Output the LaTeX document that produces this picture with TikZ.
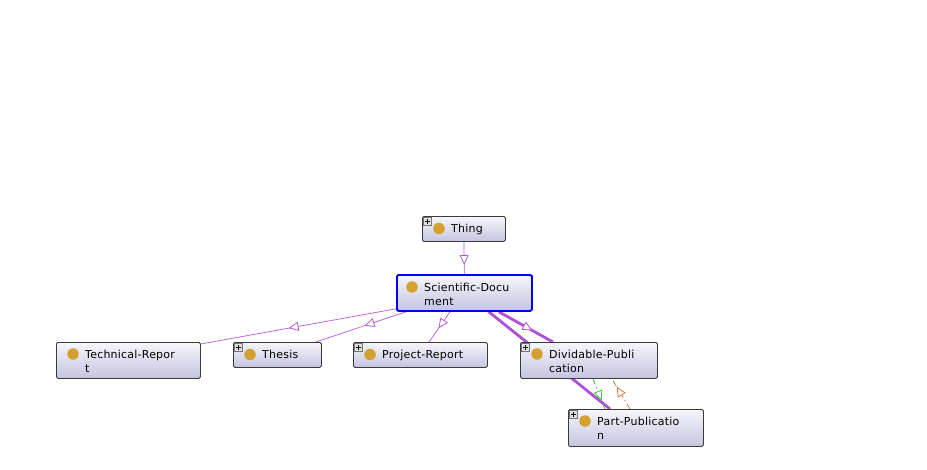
\documentclass[tikz,border=0pt]{standalone}
\usepackage{fontspec}
\setmainfont{DejaVu Sans}[LetterSpace=2]
\usetikzlibrary{arrows.meta,decorations.markings}

\definecolor{boxedge}{HTML}{3A3A3A}
\definecolor{boxtop}{HTML}{F6F6FA}
\definecolor{boxbot}{HTML}{C4C4E2}
\definecolor{selblue}{HTML}{0000FF}
\definecolor{gold}{HTML}{D4A030}
\definecolor{isapurple}{HTML}{B45AD8}
\definecolor{isathick}{HTML}{B050D8}
\definecolor{eqgreen}{HTML}{33CC33}
\definecolor{invorange}{HTML}{D27832}

\pgfdeclarelayer{edges}
\pgfsetlayers{edges,main}

\tikzset{
  x=1pt, y=-1pt,
  cbox/.style={draw=boxedge, line width=0.8pt, rounded corners=1.5pt,
    top color=boxtop, bottom color=boxbot, anchor=north west, inner sep=0pt},
  selbox/.style={cbox, draw=selblue, line width=1.8pt},
  dot/.style={circle, fill=gold, minimum size=11.5pt, inner sep=0pt},
  lbl/.style={anchor=base west, inner sep=0pt, font=\fontsize{11}{14}\selectfont},
  plusbox/.style={draw=boxedge!70, fill=white!88!black, line width=0.5pt,
    minimum size=8pt, inner sep=0pt, anchor=north west,
    path picture={\draw[line width=0.6pt, black]
      ([xshift=1.6pt]path picture bounding box.west) -- ([xshift=-1.6pt]path picture bounding box.east)
      ([yshift=-1.6pt]path picture bounding box.north) -- ([yshift=1.6pt]path picture bounding box.south);}},
  midtip/.style={decoration={markings, mark=at position #1 with
      {\arrow{Triangle[open, fill=white, length=10pt, width=9pt, line width=0.8pt]}}},
    postaction={decorate}},
  isa/.style={draw=isapurple, line width=0.7pt, midtip=#1},
  isathk/.style={draw=isathick, line width=2.8pt, midtip=#1},
  eqv/.style={draw=eqgreen, line width=0.8pt,
    dash pattern=on 6pt off 3pt on 1.5pt off 3pt, midtip=#1},
  inv/.style={draw=invorange, line width=0.8pt,
    dash pattern=on 6pt off 3pt on 1.5pt off 3pt, midtip=#1},
}

\begin{document}
\begin{tikzpicture}
\useasboundingbox (0,0) rectangle (927,469);

% Class boxes
\node[cbox, minimum width=83pt, minimum height=25pt] (thing) at (422,216) {};
\node[selbox, minimum width=135pt, minimum height=36pt] (sci) at (396,274) {};
\node[cbox, minimum width=144pt, minimum height=36pt] (tech) at (56,342) {};
\node[cbox, minimum width=88pt, minimum height=25pt] (thesis) at (233,342) {};
\node[cbox, minimum width=134pt, minimum height=25pt] (proj) at (353,342) {};
\node[cbox, minimum width=137pt, minimum height=36pt] (div) at (520,342) {};
\node[cbox, minimum width=135pt, minimum height=37pt] (part) at (568,409) {};

% Expand markers
\node[plusbox] (thing-plus) at ([xshift=1pt,yshift=-1pt]thing.north west) {};
\node[plusbox] (thesis-plus) at ([xshift=1pt,yshift=-1pt]thesis.north west) {};
\node[plusbox] (proj-plus) at ([xshift=1pt,yshift=-1pt]proj.north west) {};
\node[plusbox] (div-plus) at ([xshift=1pt,yshift=-1pt]div.north west) {};
\node[plusbox] (part-plus) at ([xshift=1pt,yshift=-1pt]part.north west) {};

% Class icons
\node[dot] (thing-dot) at ([xshift=17pt,yshift=-12.5pt]thing.north west) {};
\node[dot] (sci-dot) at ([xshift=16pt,yshift=-13pt]sci.north west) {};
\node[dot] (tech-dot) at ([xshift=17pt,yshift=-12pt]tech.north west) {};
\node[dot] (thesis-dot) at ([xshift=17pt,yshift=-12.5pt]thesis.north west) {};
\node[dot] (proj-dot) at ([xshift=17pt,yshift=-12.5pt]proj.north west) {};
\node[dot] (div-dot) at ([xshift=17pt,yshift=-12pt]div.north west) {};
\node[dot] (part-dot) at ([xshift=17pt,yshift=-12pt]part.north west) {};

% Labels
\node[lbl] (thing-t1) at ([xshift=12pt,yshift=-4pt]thing-dot.center) {Thing};
\node[lbl] (sci-t1) at ([xshift=12pt,yshift=-4pt]sci-dot.center) {Scientific-Docu};
\node[lbl] (sci-t2) at ([yshift=-14pt]sci-t1.base west) {ment};
\node[lbl] (tech-t1) at ([xshift=12pt,yshift=-4pt]tech-dot.center) {Technical-Repor};
\node[lbl] (tech-t2) at ([yshift=-14pt]tech-t1.base west) {t};
\node[lbl] (thesis-t1) at ([xshift=12pt,yshift=-4pt]thesis-dot.center) {Thesis};
\node[lbl] (proj-t1) at ([xshift=12pt,yshift=-4pt]proj-dot.center) {Project-Report};
\node[lbl] (div-t1) at ([xshift=12pt,yshift=-4pt]div-dot.center) {Dividable-Publi};
\node[lbl] (div-t2) at ([yshift=-14pt]div-t1.base west) {cation};
\node[lbl] (part-t1) at ([xshift=12pt,yshift=-4pt]part-dot.center) {Part-Publicatio};
\node[lbl] (part-t2) at ([yshift=-14pt]part-t1.base west) {n};

% Subclass and property connectors, beneath the boxes
\begin{pgfonlayer}{edges}
\draw[isa=0.72] (thing.south) -- (sci.north);
\draw[isa=0.55] ([yshift=3pt]sci.south west) -- ([yshift=-2pt]tech.north east);
\draw[isa=0.46] ([xshift=10pt]sci.south west) -- ([xshift=-6pt]thesis.north east);
\draw[isa=0.55] ([xshift=54pt]sci.south west) -- ([xshift=76pt]proj.north west);
\draw[isathk=0.62] ([xshift=-34pt]sci.south east) -- ([xshift=33pt]div.north west);
\draw[isathk=0.5] ([xshift=-44pt]sci.south east) -- ([xshift=42pt]part.north west);
\draw[eqv=0.72] ([xshift=73pt]div.south west) -- ([xshift=37pt]part.north west);
\draw[inv=0.74] ([xshift=62pt]part.north west) -- ([xshift=92pt]div.south west);
\end{pgfonlayer}
\end{tikzpicture}
\end{document}
